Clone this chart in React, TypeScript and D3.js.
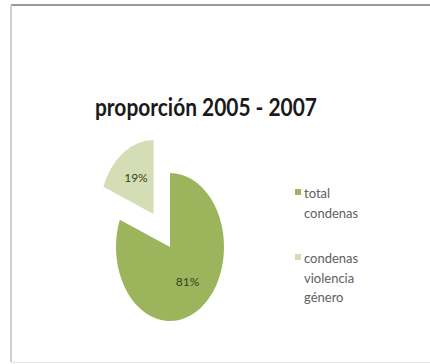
import React from "react";
import * as d3 from "d3";

const categories = ["total condenas", "condenas violencia género"];
const values = [81, 19];
const percentLabels = ["81%", "19%"];
const legendLines = [["total", "condenas"], ["condenas", "violencia", "género"]];
const colors = ["#9cb55c", "#d4ddb5"];
const title = "proporción 2005 - 2007";

const W = 430;
const H = 364;
const cx = 170;
const cy = 247;
const R = 74;
const sx = 0.73;
const explode = [0, 40];

export default function App() {
  const pie = d3.pie<number>().sort(null).startAngle(0).endAngle(2 * Math.PI);
  const arcs = pie(values);
  const arc = d3.arc<d3.PieArcDatum<number>>().innerRadius(0).outerRadius(R);
  const labelArc = d3.arc<d3.PieArcDatum<number>>().innerRadius(R * 0.58).outerRadius(R * 0.58);

  return (
    <svg width={W} height={H} style={{ position: "absolute", left: 0, top: 0, background: "#fff" }}>
      <rect x={0} y={0} width={W} height={H} fill="#ffffff" />
      <line x1={11} y1={5} x2={W} y2={5} stroke="#9a9a9a" strokeWidth={2} />
      <line x1={11} y1={5} x2={11} y2={H - 2} stroke="#cfcfcf" strokeWidth={2} />
      <line x1={11} y1={H - 1.5} x2={W} y2={H - 1.5} stroke="#e6e6e6" strokeWidth={1} />
      <text x={95} y={116} fontFamily="Lato, 'Open Sans', sans-serif" fontWeight={700} fontSize={24.5}
        fill="#1a1a1a" textLength={222} lengthAdjust="spacingAndGlyphs">{title}</text>
      {arcs.map((a, i) => {
        const mid = (a.startAngle + a.endAngle) / 2;
        const d = explode[i];
        const ox = Math.sin(mid) * d;
        const oy = -Math.cos(mid) * d;
        const [lx, ly] = labelArc.centroid(a);
        return (
          <g key={categories[i]}>
            <g transform={`translate(${cx},${cy}) scale(${sx},1) translate(${ox},${oy})`}>
              <path d={arc(a) || ""} fill={colors[i]} />
            </g>
            <text x={cx + (lx + ox) * sx} y={cy + ly + oy + 4} textAnchor="middle"
              fontFamily="Lato, 'Open Sans', sans-serif" fontSize={12} fill="#34431c">{percentLabels[i]}</text>
          </g>
        );
      })}
      {legendLines.map((lines, i) => {
        const y0 = i === 0 ? 198 : 263;
        return (
          <g key={"leg" + i}>
            <rect x={295} y={y0 - 9} width={6} height={6} fill={colors[i]} />
            {lines.map((t, j) => (
              <text key={t} x={304} y={y0 + j * 19.5} fontFamily="Lato, 'Open Sans', sans-serif"
                fontSize={13} fill="#606060">{t}</text>
            ))}
          </g>
        );
      })}
    </svg>
  );
}
